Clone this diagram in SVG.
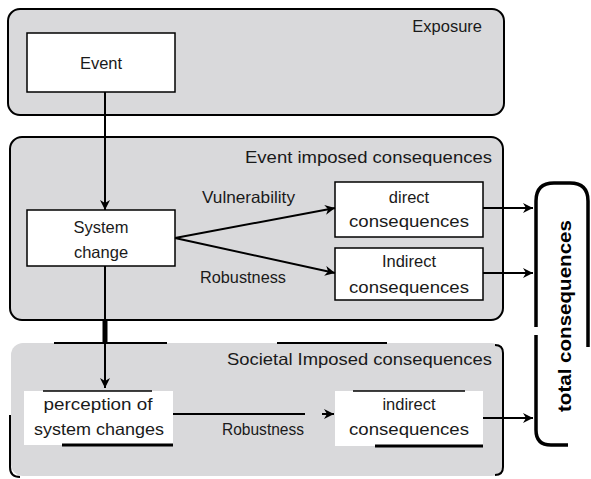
<svg xmlns="http://www.w3.org/2000/svg" width="591" height="479" viewBox="0 0 591 479">
<defs>
<style>
.grp{fill:#d9d9db;stroke:#000;stroke-width:2}
.box{fill:#fff;stroke:#000;stroke-width:1.5}
.wbox{fill:#fff;stroke:none}
.edge{fill:none;stroke:#000;stroke-width:2}
.thin{fill:none;stroke:#000;stroke-width:1.6}
.thick{fill:none;stroke:#000;stroke-width:3}
.t{font-family:"Liberation Sans",Arial,sans-serif;font-size:16.5px;fill:#1a1a1a}
.m{text-anchor:middle}
.e{text-anchor:end}
.b{font-weight:bold;font-size:18px;fill:#000}
</style>
<marker id="ah" viewBox="0 0 10 10" refX="10" refY="5" markerWidth="10" markerHeight="10" markerUnits="userSpaceOnUse" orient="auto">
<path d="M0 0 L10 5 L0 10 L3 5 Z" fill="#000"/>
</marker>
</defs>

<g id="exposure">
<rect class="grp" x="8" y="9" width="496" height="106" rx="12"/>
<text class="t e" x="482" y="32">Exposure</text>
</g>

<g id="event-imposed">
<rect class="grp" x="10" y="137" width="493" height="183" rx="12"/>
<text class="t e" x="492" y="163" textLength="247" lengthAdjust="spacingAndGlyphs">Event imposed consequences</text>
</g>

<g id="societal-imposed">
<rect x="11" y="343" width="492" height="133" rx="12" fill="#d9d9db"/>
<path class="edge" d="M54 343 H167 M277 343 H387 M495 345 Q503 345 503 353 V467 Q503 475 495 475 M10 415 V467 Q10 477 20 477"/>
<text class="t e" x="492" y="365" textLength="265" lengthAdjust="spacingAndGlyphs">Societal Imposed consequences</text>
</g>

<g id="event">
<rect class="box" x="27" y="33" width="148" height="59"/>
<text class="t m" x="101" y="69">Event</text>
</g>

<g id="system-change">
<rect class="box" x="27" y="210" width="148" height="56"/>
<text class="t m" x="101" y="233">System</text>
<text class="t m" x="101" y="258">change</text>
</g>

<g id="direct-consequences">
<rect class="box" x="335" y="182" width="148" height="55"/>
<text class="t m" x="409" y="203">direct</text>
<text class="t m" x="409" y="227" textLength="120" lengthAdjust="spacingAndGlyphs">consequences</text>
</g>

<g id="indirect-consequences-1">
<rect class="box" x="335" y="248" width="148" height="52"/>
<text class="t m" x="409" y="267">Indirect</text>
<text class="t m" x="409" y="293" textLength="120" lengthAdjust="spacingAndGlyphs">consequences</text>
</g>

<g id="perception">
<rect class="wbox" x="24" y="391" width="149" height="54"/>
<path class="thin" d="M43 391 H152"/>
<path class="thick" d="M62 445 H173"/>
<text class="t m" x="98" y="410" textLength="109" lengthAdjust="spacingAndGlyphs">perception of</text>
<text class="t m" x="99" y="435" textLength="130" lengthAdjust="spacingAndGlyphs">system changes</text>
</g>

<g id="indirect-consequences-2">
<rect class="wbox" x="335" y="391" width="148" height="55"/>
<path class="thin" d="M353 391 H465"/>
<path class="thick" d="M375 446 H483"/>
<text class="t m" x="409" y="410">indirect</text>
<text class="t m" x="409" y="435" textLength="120" lengthAdjust="spacingAndGlyphs">consequences</text>
</g>

<g id="total-consequences">
<path fill="none" stroke="#000" stroke-width="3.5" d="M536 327 V201 Q536 183 554 183 H570 Q588 183 588 201 V347"/>
<path fill="none" stroke="#000" stroke-width="3.5" d="M536 335 V430 Q536 445 551 445 H568"/>
<text class="t m b" transform="translate(571,316) rotate(-90)" textLength="192" lengthAdjust="spacingAndGlyphs">total consequences</text>
</g>

<g id="connectors">
<path class="edge" d="M105 92 V210" marker-end="url(#ah)"/>
<path class="edge" d="M105 266 V388" marker-end="url(#ah)"/>
<path fill="none" stroke="#000" stroke-width="5" d="M105 320 V343"/>
<path class="edge" d="M175 238 L335 208" marker-end="url(#ah)"/>
<path class="edge" d="M175 238 L335 273" marker-end="url(#ah)"/>
<path class="edge" d="M483 208 H533" marker-end="url(#ah)"/>
<path class="edge" d="M483 273 H533" marker-end="url(#ah)"/>
<path class="edge" d="M483 418 H533" marker-end="url(#ah)"/>
<path class="edge" d="M173 414 H305 M322 414 H334" marker-end="url(#ah)"/>
<text class="t" x="202" y="203" textLength="93" lengthAdjust="spacingAndGlyphs">Vulnerability</text>
<text class="t" x="200" y="283" textLength="86" lengthAdjust="spacingAndGlyphs">Robustness</text>
<text class="t" x="222" y="435" textLength="82" lengthAdjust="spacingAndGlyphs">Robustness</text>
</g>
</svg>
